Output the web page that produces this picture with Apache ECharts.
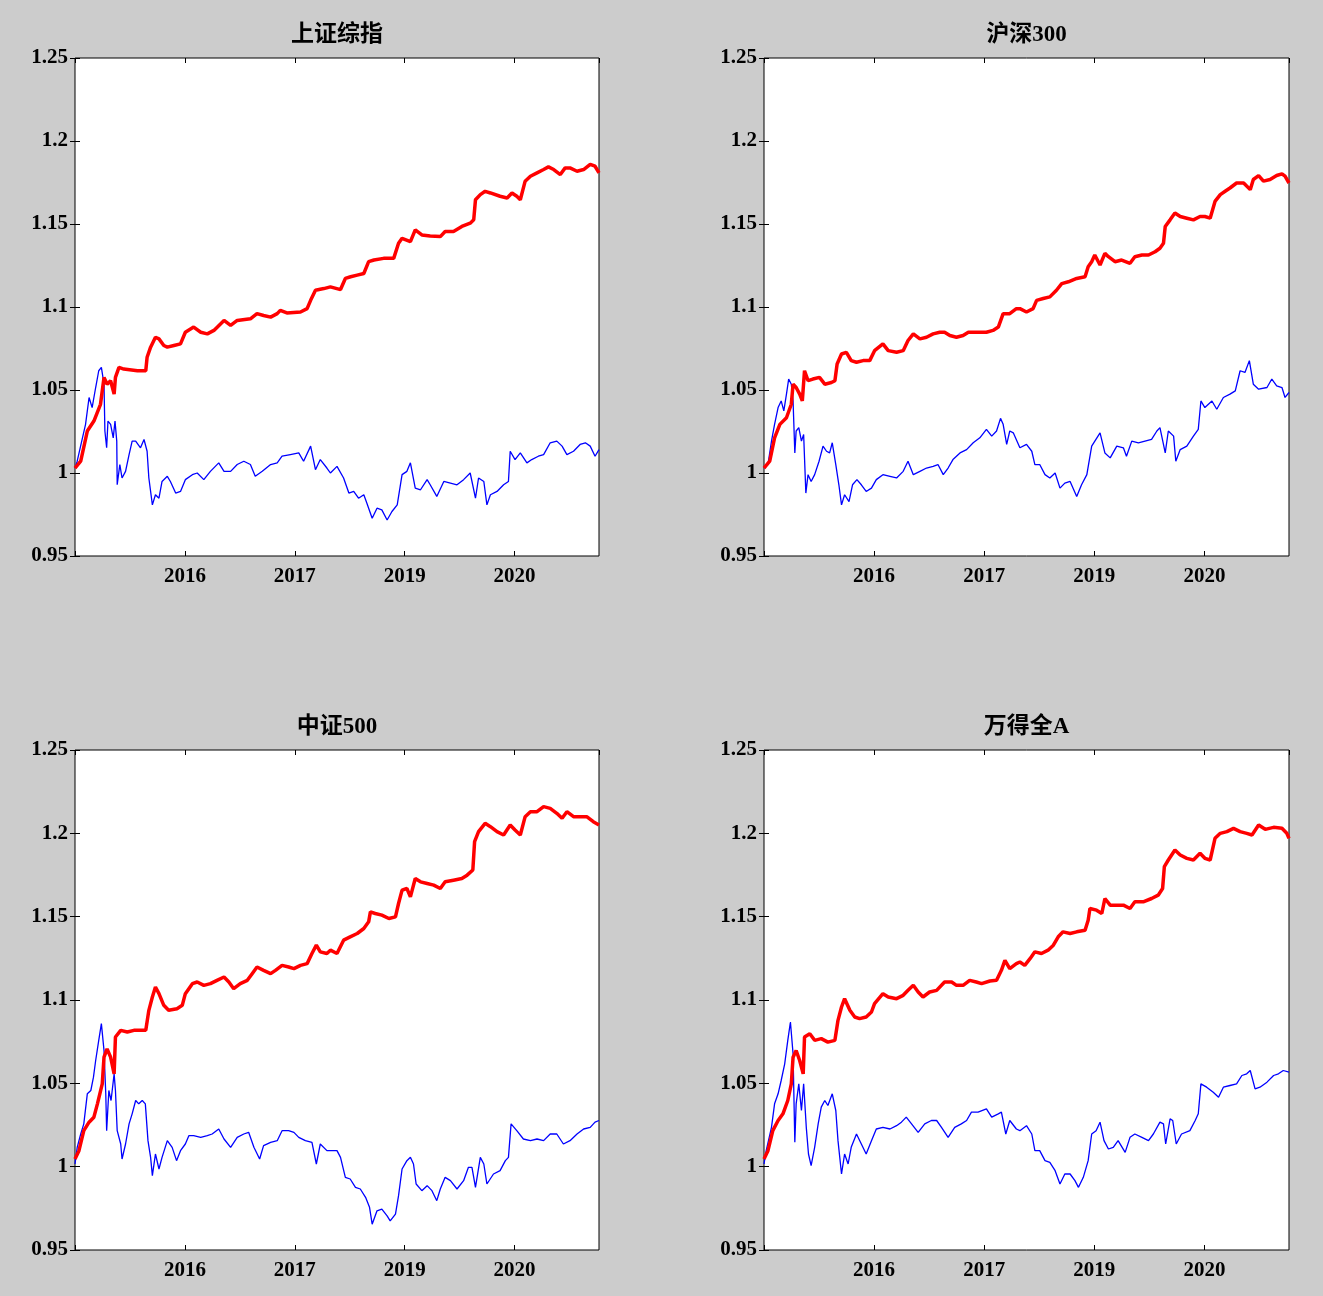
<!DOCTYPE html>
<html><head><meta charset="utf-8">
<script src="https://cdn.jsdelivr.net/npm/echarts@6/dist/echarts.min.js"></script>
<style>html,body{margin:0;padding:0;background:#cccccc;}#c{width:1323px;height:1296px;}</style>
</head><body><div id="c"></div>
<script>
const titles = ['上证综指', '沪深300', '中证500', '万得全A'];
const xTickDays = [250, 500, 750, 1000];
const xTickLabels = ['2016', '2017', '2019', '2020'];
const yMin = 0.95, yMax = 1.25, yStep = 0.05;
const totalDays = 1192;

const szRed = [[0,1.003],[13,1.0071],[28,1.0253],[43,1.0313],[58,1.0414],[66,1.0576],[73,1.0535],[81,1.0556],[89,1.0475],[92,1.0576],[100,1.0636],[111,1.0626],[142,1.0616],[161,1.0616],[164,1.0697],[172,1.0758],[183,1.0818],[191,1.0808],[202,1.0768],[210,1.0758],[225,1.0768],[240,1.0778],[251,1.0848],[270,1.0879],[286,1.0848],[301,1.0838],[316,1.0859],[339,1.0919],[354,1.0889],[369,1.0919],[399,1.0929],[414,1.096],[429,1.0949],[445,1.0939],[460,1.096],[467,1.098],[482,1.0964],[513,1.097],[528,1.099],[536,1.104],[547,1.1101],[566,1.1111],[581,1.1121],[604,1.1105],[615,1.1172],[627,1.1182],[642,1.1192],[657,1.1202],[668,1.1273],[680,1.1283],[702,1.1293],[725,1.1293],[736,1.1384],[744,1.1414],[763,1.1394],[774,1.1465],[789,1.1434],[808,1.1428],[831,1.1424],[842,1.1455],[861,1.1455],[880,1.1485],[899,1.1505],[907,1.1525],[911,1.1646],[922,1.1677],[933,1.1697],[945,1.1687],[967,1.1667],[983,1.1657],[994,1.1687],[1005,1.1667],[1013,1.1646],[1024,1.1758],[1036,1.1788],[1051,1.1808],[1066,1.1828],[1077,1.1844],[1089,1.1828],[1104,1.1798],[1115,1.1838],[1126,1.1838],[1142,1.1818],[1157,1.1828],[1172,1.1859],[1183,1.1848],[1192,1.1808]];
const szBlue = [[0,1.003],[5,1.0071],[17,1.0212],[24,1.0293],[32,1.0455],[39,1.0394],[47,1.0515],[54,1.0616],[60,1.0636],[66,1.0535],[68,1.0253],[72,1.0152],[75,1.0313],[81,1.0293],[87,1.0212],[91,1.0313],[95,1.0192],[96,0.9929],[102,1.0051],[107,0.997],[115,1.001],[123,1.0111],[130,1.0192],[138,1.0192],[149,1.0152],[157,1.0202],[164,1.0131],[168,0.997],[176,0.9808],[183,0.9869],[191,0.9848],[198,0.9949],[210,0.998],[217,0.9949],[229,0.9879],[240,0.9889],[251,0.996],[267,0.999],[278,1.0],[293,0.996],[308,1.001],[327,1.0061],[339,1.001],[354,1.001],[369,1.0051],[384,1.0071],[399,1.0051],[410,0.998],[426,1.001],[445,1.0051],[460,1.0061],[471,1.0101],[490,1.0111],[509,1.0121],[520,1.0071],[536,1.0162],[547,1.002],[558,1.0081],[573,1.003],[581,1.0],[596,1.004],[611,0.997],[623,0.9879],[634,0.9889],[645,0.9848],[657,0.9869],[664,0.9818],[676,0.9727],[687,0.9788],[698,0.9778],[710,0.9717],[721,0.9768],[733,0.9808],[744,0.999],[755,1.001],[763,1.0061],[774,0.9909],[786,0.9899],[801,0.996],[808,0.9929],[823,0.9859],[839,0.9949],[854,0.9939],[869,0.9929],[884,0.996],[899,1.0],[911,0.9848],[918,0.997],[930,0.9949],[937,0.9808],[945,0.9869],[960,0.9889],[975,0.9929],[986,0.9949],[990,1.0131],[1001,1.0081],[1013,1.0121],[1028,1.0061],[1039,1.0081],[1054,1.0101],[1066,1.0111],[1081,1.0182],[1096,1.0192],[1108,1.0162],[1119,1.0111],[1134,1.0131],[1149,1.0172],[1161,1.0182],[1172,1.0162],[1183,1.0101],[1192,1.0141]];

const hsRed = [[0,1.003],[13,1.0071],[24,1.0212],[36,1.0293],[51,1.0333],[62,1.0414],[66,1.0535],[73,1.0515],[81,1.0475],[87,1.0434],[92,1.0616],[100,1.0556],[111,1.0566],[126,1.0576],[138,1.0535],[153,1.0545],[161,1.0556],[166,1.0657],[176,1.0717],[187,1.0727],[198,1.0677],[210,1.0667],[225,1.0677],[240,1.0677],[251,1.0737],[270,1.0778],[282,1.0737],[301,1.0727],[316,1.0737],[327,1.0798],[339,1.0838],[354,1.0808],[369,1.0818],[384,1.0838],[399,1.0848],[410,1.0848],[422,1.0828],[437,1.0818],[452,1.0828],[464,1.0848],[482,1.0848],[505,1.0848],[520,1.0859],[532,1.0879],[543,1.096],[558,1.096],[573,1.099],[581,1.099],[596,1.097],[611,1.099],[619,1.104],[634,1.1051],[649,1.1061],[664,1.1101],[676,1.1141],[691,1.1152],[710,1.1172],[729,1.1182],[736,1.1242],[744,1.1273],[751,1.1313],[763,1.1253],[774,1.1323],[782,1.1303],[797,1.1273],[812,1.1283],[831,1.1263],[842,1.1303],[858,1.1313],[873,1.1313],[888,1.1333],[899,1.1354],[907,1.1384],[911,1.1485],[922,1.1525],[933,1.1566],[945,1.1545],[960,1.1535],[975,1.1525],[990,1.1545],[1001,1.1545],[1013,1.1535],[1024,1.1636],[1036,1.1677],[1047,1.1697],[1058,1.1717],[1073,1.1747],[1089,1.1747],[1104,1.1707],[1111,1.1768],[1123,1.1792],[1134,1.1758],[1149,1.1768],[1164,1.1792],[1176,1.1802],[1183,1.1788],[1192,1.1747]];
const hsBlue = [[0,1.003],[9,1.0051],[17,1.0192],[24,1.0293],[32,1.0394],[39,1.0434],[45,1.0374],[51,1.0475],[56,1.0566],[62,1.0535],[66,1.0434],[70,1.0121],[73,1.0253],[79,1.0273],[85,1.0192],[90,1.0232],[95,0.9879],[100,0.999],[107,0.9949],[115,0.999],[125,1.0071],[134,1.0162],[142,1.0131],[149,1.0121],[155,1.0182],[163,1.0051],[170,0.9929],[176,0.9808],[183,0.9869],[193,0.9828],[201,0.9929],[211,0.996],[221,0.9929],[232,0.9889],[244,0.9909],[255,0.996],[270,0.999],[286,0.998],[301,0.997],[316,1.001],[327,1.0071],[339,0.999],[354,1.001],[369,1.003],[384,1.004],[395,1.0051],[407,0.999],[418,1.003],[429,1.0081],[445,1.0121],[460,1.0141],[475,1.0182],[490,1.0212],[505,1.0263],[517,1.0222],[528,1.0253],[537,1.0329],[543,1.0293],[551,1.0172],[558,1.0253],[566,1.0242],[581,1.0152],[596,1.0172],[608,1.0131],[615,1.0051],[626,1.0051],[638,0.999],[649,0.997],[661,1.0],[672,0.9909],[683,0.9939],[695,0.9949],[710,0.9859],[721,0.9929],[733,0.999],[744,1.0162],[763,1.0242],[774,1.0121],[786,1.0091],[801,1.0162],[816,1.0152],[823,1.0101],[835,1.0192],[850,1.0182],[865,1.0192],[880,1.0202],[892,1.0253],[899,1.0273],[911,1.0121],[918,1.0253],[930,1.0222],[935,1.0071],[945,1.0141],[960,1.0162],[975,1.0222],[986,1.0263],[992,1.0434],[1001,1.0394],[1017,1.0434],[1028,1.0384],[1043,1.0455],[1058,1.0475],[1070,1.0495],[1081,1.0616],[1092,1.0606],[1102,1.0677],[1111,1.0535],[1123,1.0505],[1142,1.0515],[1153,1.0566],[1164,1.0525],[1176,1.0515],[1183,1.0455],[1192,1.0485]];

const zzRed = [[0,1.0046],[9,1.0096],[20,1.0216],[32,1.0267],[43,1.0297],[51,1.0377],[62,1.0497],[66,1.0657],[73,1.0707],[81,1.0657],[89,1.0557],[92,1.0778],[104,1.0818],[119,1.0808],[134,1.0818],[149,1.0818],[161,1.0818],[168,1.0938],[176,1.1018],[183,1.1078],[191,1.1038],[202,1.0968],[213,1.0938],[232,1.0948],[244,1.0968],[251,1.1038],[267,1.1098],[278,1.1108],[293,1.1088],[308,1.1098],[323,1.1118],[339,1.1138],[350,1.1108],[361,1.1068],[376,1.1098],[392,1.1118],[403,1.1158],[414,1.1198],[429,1.1178],[445,1.1158],[456,1.1178],[471,1.1208],[486,1.1198],[498,1.1188],[513,1.1208],[528,1.1218],[539,1.1279],[549,1.1329],[558,1.1289],[573,1.1279],[581,1.1299],[596,1.1279],[611,1.1359],[626,1.1379],[642,1.1399],[657,1.1429],[668,1.1469],[672,1.1529],[683,1.1519],[698,1.1509],[714,1.1489],[729,1.1499],[736,1.1579],[744,1.1659],[755,1.1669],[763,1.1619],[774,1.1729],[786,1.1709],[801,1.1699],[816,1.1689],[831,1.1669],[842,1.1709],[861,1.1719],[880,1.1729],[892,1.1749],[905,1.178],[909,1.195],[918,1.201],[933,1.206],[945,1.204],[960,1.201],[975,1.199],[990,1.205],[1001,1.202],[1013,1.199],[1024,1.21],[1036,1.213],[1051,1.213],[1066,1.216],[1081,1.215],[1096,1.212],[1108,1.209],[1119,1.213],[1134,1.21],[1149,1.21],[1164,1.21],[1179,1.207],[1192,1.205]];
const zzBlue = [[0,1.0016],[5,1.0116],[13,1.0196],[20,1.0257],[28,1.0437],[36,1.0457],[42,1.0537],[47,1.0637],[54,1.0758],[60,1.0858],[66,1.0697],[70,1.0437],[72,1.0216],[77,1.0457],[82,1.0397],[89,1.0557],[92,1.0457],[96,1.0216],[104,1.0136],[107,1.0046],[115,1.0136],[123,1.0257],[130,1.0317],[138,1.0397],[145,1.0377],[153,1.0397],[160,1.0377],[166,1.0156],[172,1.0056],[176,0.9946],[183,1.0076],[191,0.9986],[198,1.0056],[210,1.0156],[221,1.0116],[231,1.0036],[240,1.0096],[251,1.0136],[259,1.0186],[270,1.0186],[286,1.0176],[301,1.0186],[312,1.0196],[327,1.0226],[339,1.0166],[354,1.0116],[369,1.0176],[384,1.0196],[395,1.0206],[407,1.0116],[420,1.0046],[429,1.0126],[445,1.0146],[460,1.0156],[471,1.0216],[486,1.0216],[498,1.0206],[509,1.0176],[524,1.0156],[539,1.0146],[549,1.0016],[558,1.0136],[573,1.0096],[581,1.0096],[596,1.0096],[604,1.0056],[615,0.9936],[626,0.9926],[638,0.9876],[649,0.9866],[661,0.9816],[670,0.9756],[676,0.9655],[687,0.9735],[698,0.9745],[710,0.9705],[717,0.9675],[729,0.9715],[736,0.9826],[744,0.9986],[755,1.0036],[763,1.0056],[770,1.0016],[776,0.9896],[789,0.9856],[801,0.9886],[812,0.9856],[823,0.9796],[831,0.9866],[842,0.9936],[854,0.9916],[869,0.9866],[884,0.9916],[895,0.9996],[903,0.9996],[911,0.9876],[922,1.0056],[930,1.0016],[937,0.9896],[952,0.9956],[967,0.9976],[979,1.0036],[986,1.0056],[992,1.0257],[1005,1.0216],[1020,1.0166],[1036,1.0156],[1051,1.0166],[1066,1.0156],[1081,1.0196],[1096,1.0196],[1111,1.0136],[1126,1.0156],[1142,1.0196],[1157,1.0226],[1172,1.0236],[1183,1.0267],[1192,1.0277]];

const wdRed = [[0,1.0046],[9,1.0096],[20,1.0216],[32,1.0277],[43,1.0317],[54,1.0397],[62,1.0497],[66,1.0657],[73,1.0697],[81,1.0637],[89,1.0557],[92,1.0778],[104,1.0798],[115,1.0758],[130,1.0768],[145,1.0747],[161,1.0758],[168,1.0878],[176,1.0958],[183,1.1008],[195,1.0938],[206,1.0898],[217,1.0888],[232,1.0898],[244,1.0928],[251,1.0978],[270,1.1038],[282,1.1018],[301,1.1008],[316,1.1028],[327,1.1058],[339,1.1088],[350,1.1048],[361,1.1018],[376,1.1048],[392,1.1058],[410,1.1108],[426,1.1108],[437,1.1088],[452,1.1088],[467,1.1118],[482,1.1108],[494,1.1098],[513,1.1114],[528,1.1118],[539,1.1178],[547,1.1238],[558,1.1188],[573,1.1218],[581,1.1228],[592,1.1208],[604,1.1248],[615,1.1289],[630,1.1279],[645,1.1299],[657,1.1329],[668,1.1379],[679,1.1409],[695,1.1399],[710,1.1409],[729,1.1419],[736,1.1479],[740,1.1549],[755,1.1539],[767,1.1519],[774,1.1609],[786,1.1569],[801,1.1569],[816,1.1569],[831,1.1549],[842,1.1589],[861,1.1589],[880,1.1609],[895,1.1629],[905,1.1669],[909,1.18],[918,1.184],[933,1.19],[945,1.187],[960,1.185],[975,1.184],[990,1.188],[1001,1.185],[1013,1.184],[1024,1.197],[1036,1.2],[1051,1.201],[1066,1.203],[1081,1.201],[1096,1.2],[1108,1.199],[1123,1.205],[1138,1.2024],[1157,1.2036],[1176,1.203],[1187,1.2],[1192,1.197]];
const wdBlue = [[0,1.0016],[5,1.0096],[17,1.0236],[24,1.0377],[32,1.0437],[39,1.0517],[47,1.0617],[54,1.0758],[60,1.0868],[66,1.0677],[70,1.0146],[73,1.0377],[79,1.0497],[85,1.0337],[90,1.0497],[96,1.0236],[101,1.0076],[107,1.0006],[115,1.0116],[123,1.0257],[130,1.0357],[138,1.0397],[145,1.0367],[155,1.0437],[163,1.0337],[168,1.0156],[176,0.9956],[183,1.0076],[191,1.0016],[198,1.0116],[210,1.0196],[221,1.0136],[232,1.0076],[244,1.0156],[255,1.0226],[270,1.0236],[286,1.0226],[301,1.0246],[312,1.0267],[323,1.0297],[335,1.0257],[350,1.0206],[365,1.0257],[380,1.0277],[392,1.0277],[403,1.0236],[418,1.0176],[433,1.0236],[448,1.0257],[460,1.0277],[471,1.0327],[486,1.0327],[505,1.0347],[517,1.0297],[532,1.0317],[539,1.0327],[549,1.0196],[558,1.0277],[573,1.0226],[581,1.0216],[596,1.0246],[608,1.0196],[615,1.0096],[626,1.0096],[638,1.0036],[649,1.0026],[661,0.9976],[672,0.9896],[683,0.9956],[695,0.9956],[706,0.9916],[714,0.9876],[725,0.9936],[736,1.0036],[744,1.0196],[754,1.0216],[763,1.0267],[772,1.0156],[782,1.0106],[793,1.0116],[804,1.0156],[820,1.0086],[831,1.0176],[842,1.0196],[858,1.0176],[873,1.0156],[884,1.0196],[899,1.0267],[907,1.0257],[912,1.0136],[922,1.0287],[928,1.0277],[936,1.0136],[948,1.0196],[967,1.0216],[979,1.0277],[986,1.0317],[992,1.0497],[1005,1.0477],[1020,1.0447],[1032,1.0417],[1043,1.0477],[1058,1.0487],[1073,1.0497],[1085,1.0547],[1096,1.0557],[1104,1.0577],[1115,1.0467],[1126,1.0477],[1142,1.0507],[1157,1.0547],[1168,1.0557],[1179,1.0577],[1192,1.0567]];

const redSeries = [szRed, hsRed, zzRed, wdRed];
const blueSeries = [szBlue, hsBlue, zzBlue, wdBlue];

const layouts = [
  {left: 75, top: 58, width: 524, height: 498},
  {left: 764, top: 58, width: 525, height: 498},
  {left: 75, top: 750, width: 524, height: 500},
  {left: 764, top: 750, width: 525, height: 500}
];

const serif = "'Times New Roman','Liberation Serif','Noto Sans CJK SC',serif";
const labelStyle = {color: '#000', fontFamily: serif, fontWeight: 'bold', fontSize: 21};
const tickStyle = {show: true, inside: true, length: 5, lineStyle: {color: '#000', width: 1}};

const grids = [], xAxes = [], yAxes = [], series = [], titleOpts = [];
layouts.forEach((L, i) => {
  grids.push({left: L.left, top: L.top, width: L.width, height: L.height,
    show: true, backgroundColor: '#ffffff', borderColor: '#000', borderWidth: 1, containLabel: false});
  titleOpts.push({text: titles[i], left: L.left + L.width / 2, top: L.top - 34, textAlign: 'center', padding: 0,
    textStyle: {color: '#000', fontFamily: serif, fontWeight: 'bold', fontSize: 23}});
});
layouts.forEach((L, i) => {
  xAxes.push({gridIndex: i, type: 'value', min: 0, max: totalDays, interval: 250, position: 'bottom',
    axisLine: {show: false}, axisTick: tickStyle, splitLine: {show: false},
    axisLabel: Object.assign({margin: 10, showMinLabel: true, showMaxLabel: false,
      formatter: v => { const k = xTickDays.indexOf(Math.round(v)); return k >= 0 ? xTickLabels[k] : ''; }}, labelStyle)});
  yAxes.push({gridIndex: i, type: 'value', min: yMin, max: yMax, interval: yStep, position: 'left',
    axisLine: {show: false}, axisTick: tickStyle, splitLine: {show: false},
    axisLabel: Object.assign({margin: 7, formatter: v => String(+v.toFixed(2))}, labelStyle)});
});
layouts.forEach((L, i) => {
  xAxes.push({gridIndex: i, type: 'value', min: 0, max: totalDays, interval: 250, position: 'top',
    axisLine: {show: false}, axisTick: tickStyle, splitLine: {show: false}, axisLabel: {show: false}});
  yAxes.push({gridIndex: i, type: 'value', min: yMin, max: yMax, interval: yStep, position: 'right',
    axisLine: {show: false}, axisTick: tickStyle, splitLine: {show: false}, axisLabel: {show: false}});
});
layouts.forEach((L, i) => {
  series.push({type: 'line', xAxisIndex: i, yAxisIndex: i, data: blueSeries[i], showSymbol: false, symbol: 'none',
    lineStyle: {color: '#0000ff', width: 1.3}, itemStyle: {color: '#0000ff'}, z: 2});
  series.push({type: 'line', xAxisIndex: i, yAxisIndex: i, data: redSeries[i], showSymbol: false, symbol: 'none',
    lineStyle: {color: '#ff0000', width: 3.5}, itemStyle: {color: '#ff0000'}, z: 3});
});

const chart = echarts.init(document.getElementById('c'), null, {renderer: 'canvas'});
chart.setOption({
  backgroundColor: '#cccccc',
  animation: false,
  title: titleOpts,
  grid: grids,
  xAxis: xAxes,
  yAxis: yAxes,
  series: series
});
</script>
</body></html>
